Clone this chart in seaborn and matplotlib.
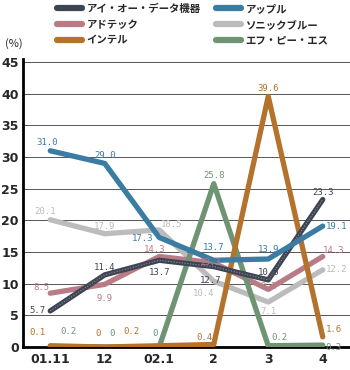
import numpy as np
import pandas as pd
import matplotlib
matplotlib.use('Agg')
import matplotlib.pyplot as plt
import seaborn as sns
from matplotlib.lines import Line2D

# data
months = ['01.11', '12', '02.1', '2', '3', '4']
io_data = [5.7, 11.4, 13.7, 12.7, 10.6, 23.3]
apple = [31.0, 29.0, 17.3, 13.7, 13.9, 19.1]
adtec = [8.5, 9.9, 14.3, 13.3, 9.1, 14.3]
sonicblue = [20.1, 17.9, 18.5, 10.4, 7.1, 12.2]
intel = [0.1, 0.0, 0.2, 0.4, 39.6, 1.6]
fps = [0.2, 0.0, 0.0, 25.8, 0.2, 0.3]

names = ['アイ・オー・データ機器', 'アップル', 'アドテック', 'ソニックブルー', 'インテル', 'エフ・ピー・エス']
series = [io_data, apple, adtec, sonicblue, intel, fps]
colors = ['#3f4452', '#3a7ca2', '#b97b86', '#bcbcbc', '#b5722c', '#6e9474']

sns.set_theme(style='white')
plt.rcParams['font.family'] = ['Noto Sans CJK JP', 'DejaVu Sans']

rows = []
for name, vals in zip(names, series):
    for i, v in enumerate(vals):
        rows.append({'company': name, 'x': i, 'share': v})
df = pd.DataFrame(rows)
palette = dict(zip(names, colors))

fig = plt.figure(figsize=(3.5, 3.7), dpi=100)
ax = fig.add_axes([23 / 350, 23 / 370, 1 - 23 / 350, (347 - 59) / 370])

draw_order = ['ソニックブルー', 'アドテック', 'エフ・ピー・エス', 'インテル', 'アイ・オー・データ機器', 'アップル']
for z, name in enumerate(draw_order):
    sub = df[df['company'] == name]
    sns.lineplot(data=sub, x='x', y='share', color=palette[name], lw=3.8,
                 ax=ax, sort=False, legend=False, zorder=3 + z,
                 solid_capstyle='round', solid_joinstyle='round')
    if name == 'アイ・オー・データ機器':
        ax.plot(sub['x'], sub['share'], color='#8a90a0', lw=0.8, ls=(0, (1, 1.5)), zorder=3 + z)

# label offsets in points (dx, dy) per series, per point
offsets = {
    'アイ・オー・データ機器': [(-9, 0), (0, 5), (0, -9), (-2, -10), (0, 5), (0, 5)],
    'アップル': [(-2, 6), (0, 6), (-12, -1), (0, 9), (0, 7), (10, 0)],
    'アドテック': [(-6, 4), (0, -10), (-3, 5), (-2, 0), (0, 2), (8, 4)],
    'ソニックブルー': [(-4, 6), (0, 5), (9, 4), (-7, -9), (0, -7), (10, 0)],
    'インテル': [(-9, 10), (-5, 10), (-20, 10), (-7, 5), (0, 6), (8, 5)],
    'エフ・ピー・エス': [(13, 10), (5, 10), (-3, 10), (0, 6), (8, 6), (8, -2)],
}
for name, vals in zip(names, series):
    for i, v in enumerate(vals):
        dx, dy = offsets[name][i]
        txt = f'{v:.1f}' if v != 0 else '0'
        ax.annotate(txt, (i, v), xytext=(dx, dy), textcoords='offset points',
                    ha='center', va='center', fontsize=6.5, color=palette[name],
                    family='DejaVu Sans Mono', zorder=20)

ax.set_xlim(-0.5, 5.5)
ax.set_ylim(0, 45.5)
ax.set_yticks(np.arange(0, 46, 5))
ax.set_xticks(range(len(months)))
ax.set_xticklabels(months)
ax.set_xticks(np.arange(0.5, 5, 1), minor=True)
ax.tick_params(axis='x', which='major', length=0, labelsize=9, pad=4)
ax.tick_params(axis='x', which='minor', length=3, width=0.8, direction='in', color='#333333')
ax.tick_params(axis='y', length=0, labelsize=9, pad=3)
for lab in ax.get_xticklabels() + ax.get_yticklabels():
    lab.set_fontweight('bold')
    lab.set_family('DejaVu Sans')
ax.yaxis.grid(True, color='#555555', lw=0.7)
ax.set_axisbelow(True)
ax.set_xlabel('')
ax.set_ylabel('')
for s in ['top', 'right']:
    ax.spines[s].set_visible(False)
for s in ['left', 'bottom']:
    ax.spines[s].set_color('black')
    ax.spines[s].set_linewidth(2)

fig.text(14 / 350, 1 - 44 / 370, '(%)', ha='center', va='center', fontsize=8)

order = [0, 2, 4, 1, 3, 5]
handles = [Line2D([], [], color=colors[k], lw=4.5, solid_capstyle='round') for k in order]
labels = [names[k] for k in order]
fig.legend(handles, labels, loc='upper left', bbox_to_anchor=(48 / 350, 1.015), ncol=2,
           frameon=False, handlelength=2.4, handletextpad=0.4,
           columnspacing=1.5, labelspacing=0.55, prop={'weight': 'bold', 'size': 7.5})

fig.savefig('out.png', dpi=100)
